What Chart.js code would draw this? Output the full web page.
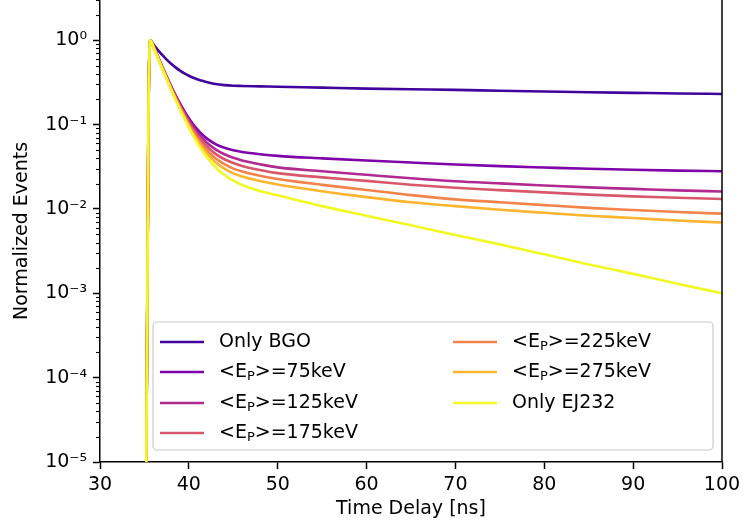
<!DOCTYPE html>
<html>
<head>
<meta charset="utf-8">
<script src="https://cdn.jsdelivr.net/npm/chart.js@4.4.0/dist/chart.umd.min.js"></script>
<style>
  html, body { margin: 0; padding: 0; background: #fff; }
  #wrap { width: 743px; height: 528px; }
</style>
</head>
<body>
<div id="wrap"><canvas id="c" width="743" height="528"></canvas></div>
<script>
// time axis (ns) shared by every curve
const timeNs = [35.05, 35.45, 35.65, 36, 36.5, 37, 37.5, 38, 38.5, 39, 39.5, 40, 40.5, 41, 41.5, 42, 43, 44, 45, 46, 48, 50, 55, 60, 65, 70, 75, 80, 85, 90, 95, 100]

// normalized events
const onlyBGO = [1e-8, 0.11, 1.0, 0.893, 0.77, 0.669, 0.59, 0.527, 0.477, 0.437, 0.405, 0.379, 0.359, 0.343, 0.33, 0.32, 0.303, 0.294, 0.289, 0.287, 0.284, 0.281, 0.274, 0.267, 0.262, 0.258, 0.252, 0.247, 0.242, 0.238, 0.234, 0.231]
const ep75 = [1e-8, 0.11, 1.0, 0.86, 0.645, 0.488, 0.372, 0.286, 0.224, 0.178, 0.144, 0.119, 0.1, 0.0865, 0.0763, 0.0687, 0.0588, 0.0531, 0.0496, 0.0474, 0.0446, 0.0426, 0.0398, 0.0375, 0.0355, 0.0337, 0.0322, 0.031, 0.0299, 0.0291, 0.0285, 0.028]
const ep125 = [1e-8, 0.11, 1.0, 0.858, 0.643, 0.485, 0.368, 0.282, 0.219, 0.173, 0.1385, 0.113, 0.0941, 0.08, 0.0694, 0.0614, 0.0508, 0.0445, 0.0404, 0.0376, 0.0339, 0.0311, 0.028, 0.0254, 0.0231, 0.0213, 0.0201, 0.019, 0.018, 0.0173, 0.0166, 0.0161]
const ep175 = [1e-8, 0.11, 1.0, 0.85, 0.636, 0.478, 0.361, 0.275, 0.2125, 0.166, 0.132, 0.1065, 0.0877, 0.0737, 0.0633, 0.0554, 0.045, 0.0388, 0.035, 0.0324, 0.029, 0.0266, 0.0237, 0.0215, 0.0194, 0.0178, 0.0167, 0.0157, 0.0148, 0.0141, 0.0136, 0.0131]
const ep225 = [1e-8, 0.11, 1.0, 0.844, 0.629, 0.471, 0.355, 0.269, 0.206, 0.16, 0.126, 0.1007, 0.082, 0.0681, 0.0578, 0.05, 0.0398, 0.0339, 0.0301, 0.0278, 0.0247, 0.0226, 0.0193, 0.0168, 0.0146, 0.013, 0.012, 0.0111, 0.0103, 0.0097, 0.0092, 0.0088]
const ep275 = [1e-8, 0.11, 1.0, 0.839, 0.624, 0.466, 0.35, 0.264, 0.202, 0.156, 0.1215, 0.0962, 0.0776, 0.0638, 0.0535, 0.0459, 0.0358, 0.03, 0.0264, 0.0242, 0.0214, 0.0195, 0.0162, 0.0138, 0.012, 0.0108, 0.0098, 0.009, 0.0083, 0.0078, 0.0073, 0.0069]
const onlyEJ232 = [1e-8, 0.11, 1.0, 0.836, 0.621, 0.463, 0.347, 0.261, 0.198, 0.152, 0.118, 0.0923, 0.0736, 0.0596, 0.0492, 0.0414, 0.0312, 0.0253, 0.0216, 0.0192, 0.0163, 0.0145, 0.0108, 0.0083, 0.0064, 0.0049, 0.0038, 0.0029, 0.0022, 0.0017, 0.0013, 0.001]

const seriesLabels = ["Only BGO", "<E_P>=75keV", "<E_P>=125keV", "<E_P>=175keV", "<E_P>=225keV", "<E_P>=275keV", "Only EJ232"]
const seriesValues = [onlyBGO, ep75, ep125, ep175, ep225, ep275, onlyEJ232]
const seriesColors = ["#41049d", "#7e03a8", "#b12a90", "#d8576b", "#f2844b", "#fdb42f", "#f0f921"]

// ticks
const xTicks = [30, 40, 50, 60, 70, 80, 90, 100]
const yDecades = [-5, -4, -3, -2, -1, 0]
const yMinorMult = [2, 3, 4, 5, 6, 7, 8, 9]

const FONT = "DejaVu Sans"
const FSIZE = 19

const supChars = { "0": "\u2070", "1": "\u00b9", "2": "\u00b2", "3": "\u00b3", "4": "\u2074", "5": "\u2075", "-": "\u207b" }
const sup = n => String(n).split("").map(c => supChars[c]).join("")
const isMajor = v => { const e = Math.log10(v); return Math.abs(e - Math.round(e)) < 1e-6 }

let yTickValues = []
yDecades.forEach(d => {
  yTickValues.push(Math.pow(10, d))
  yMinorMult.forEach(m => { if (m * Math.pow(10, d) <= 3) yTickValues.push(m * Math.pow(10, d)) })
})

const datasets = seriesLabels.map((lab, i) => ({
  label: lab,
  data: timeNs.map((t, j) => ({ x: t, y: seriesValues[i][j] })),
  borderColor: seriesColors[i],
  backgroundColor: seriesColors[i],
  borderWidth: 2.6,
  pointRadius: 0,
  cubicInterpolationMode: "monotone",
  order: seriesLabels.length - 1 - i,
}))

//minor ticks, right spine and the legend box
const extras = {
  id: "extras",
  afterDraw(chart) {
    const { ctx, chartArea: ca, scales } = chart
    const y = scales.y
    ctx.save()
    // minor y ticks
    ctx.strokeStyle = "#000"
    ctx.lineWidth = 1.1
    yTickValues.forEach(v => {
      if (isMajor(v)) return
      const py = Math.round(y.getPixelForValue(v)) + 0.5
      if (py < ca.top || py > ca.bottom) return
      ctx.beginPath()
      ctx.moveTo(ca.left - 4, py)
      ctx.lineTo(ca.left, py)
      ctx.stroke()
    })
    // right spine
    ctx.lineWidth = 1.5
    ctx.beginPath()
    ctx.moveTo(ca.right, ca.top)
    ctx.lineTo(ca.right, ca.bottom)
    ctx.stroke()

    // legend
    const bx = ca.left + 53, by = ca.bottom - 140, bw = 560, bh = 128
    ctx.fillStyle = "rgba(255,255,255,0.8)"
    ctx.strokeStyle = "#cccccc"
    ctx.lineWidth = 1.2
    ctx.beginPath()
    ctx.roundRect(bx, by, bw, bh, 4)
    ctx.fill()
    ctx.stroke()

    const rowY = [20, 50, 81, 111]
    const colX = [7, 300]
    ctx.textBaseline = "middle"
    ctx.textAlign = "left"
    seriesLabels.forEach((lab, i) => {
      const col = i < 4 ? 0 : 1
      const row = i < 4 ? i : i - 4
      const hx = bx + colX[col], hy = by + rowY[row]
      ctx.strokeStyle = seriesColors[i]
      ctx.lineWidth = 2.6
      ctx.beginPath()
      ctx.moveTo(hx, hy)
      ctx.lineTo(hx + 44, hy)
      ctx.stroke()
      ctx.fillStyle = "#000"
      let tx = hx + 59
      const parts = lab.split("_P")
      ctx.font = FSIZE + "px '" + FONT + "'"
      if (parts.length === 2) {
        ctx.fillText(parts[0], tx, hy)
        tx += ctx.measureText(parts[0]).width
        ctx.font = Math.round(FSIZE * 0.7) + "px '" + FONT + "'"
        ctx.fillText("P", tx, hy + 5)
        tx += ctx.measureText("P").width
        ctx.font = FSIZE + "px '" + FONT + "'"
        ctx.fillText(parts[1], tx, hy)
      } else {
        ctx.fillText(lab, tx, hy)
      }
    })
    ctx.restore()
  }
}

const ctx = document.getElementById("c")
new Chart(ctx, {
  type: "line",
  data: { datasets },
  plugins: [extras],
  options: {
    responsive: false,
    animation: false,
    events: [],
    layout: { padding: { top: 0, right: 21, left: 0, bottom: 0 } },
    plugins: { legend: { display: false }, tooltip: { enabled: false } },
    scales: {
      x: {
        type: "linear",
        min: 30,
        max: 100,
        afterBuildTicks(scale) { scale.ticks = xTicks.map(v => ({ value: v })) },
        afterFit(scale) { scale.height = 66; scale.paddingLeft = 0; scale.paddingRight = 0 },
        grid: { display: true, drawOnChartArea: false, drawTicks: true, tickLength: 7, tickColor: "#000", tickWidth: 1.5 },
        border: { display: true, color: "#000", width: 1.5 },
        ticks: { color: "#000", padding: 5, autoSkip: false, maxRotation: 0, font: { family: FONT, size: FSIZE } },
        title: { display: true, text: "Time Delay [ns]", color: "#000", padding: { top: 0, bottom: 8 }, font: { family: FONT, size: FSIZE } },
      },
      y: {
        type: "logarithmic",
        min: 1e-5,
        max: 3,
        afterBuildTicks(scale) { scale.ticks = yTickValues.map(v => ({ value: v })) },
        afterFit(scale) { scale.width = 100; scale.paddingTop = 0; scale.paddingBottom = 0 },
        grid: {
          display: true, drawOnChartArea: false, drawTicks: true, tickLength: 7,
          tickColor: c => (c.tick && isMajor(c.tick.value)) ? "#000" : "rgba(0,0,0,0)",
          tickWidth: 1.5,
        },
        border: { display: true, color: "#000", width: 1.5 },
        ticks: {
          color: "#000", padding: 6, autoSkip: false,
          font: { family: FONT, size: FSIZE },
          callback: v => isMajor(v) ? "10" + sup(Math.round(Math.log10(v))) : "",
        },
        title: { display: true, text: "Normalized Events", color: "#000", padding: { top: 11, bottom: 0 }, font: { family: FONT, size: FSIZE } },
      },
    },
  },
})
</script>
</body>
</html>
